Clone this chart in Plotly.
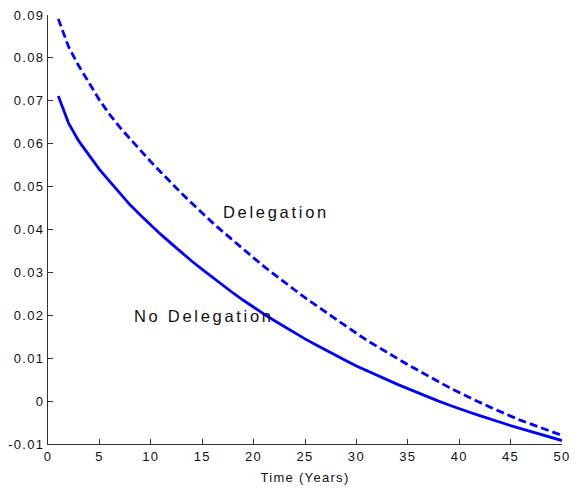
import plotly.graph_objects as go

years = list(range(1, 51))

no_delegation = [
    0.0711, 0.0648, 0.0606, 0.0572, 0.0540, 0.0512, 0.0484, 0.0457, 0.0433, 0.0410,
    0.0388, 0.0367, 0.0346, 0.0326, 0.0307, 0.0288, 0.0270, 0.0252, 0.0235, 0.0218,
    0.0203, 0.0188, 0.0173, 0.0159, 0.0145, 0.0132, 0.0119, 0.0106, 0.0094, 0.0082,
    0.0071, 0.0060, 0.0049, 0.0039, 0.0029, 0.0019, 0.0009, 0.0000, -0.0009, -0.0018,
    -0.0026, -0.0034, -0.0042, -0.0050, -0.0057, -0.0064, -0.0071, -0.0078, -0.0085, -0.0092,
]

delegation = [
    0.0891, 0.0826, 0.0781, 0.0740, 0.0702, 0.0668, 0.0638, 0.0611, 0.0584, 0.0558,
    0.0533, 0.0508, 0.0484, 0.0461, 0.0438, 0.0416, 0.0395, 0.0374, 0.0354, 0.0334,
    0.0314, 0.0295, 0.0277, 0.0259, 0.0241, 0.0224, 0.0207, 0.0190, 0.0174, 0.0158,
    0.0142, 0.0127, 0.0113, 0.0099, 0.0085, 0.0071, 0.0058, 0.0045, 0.0032, 0.0020,
    0.0008, -0.0003, -0.0014, -0.0025, -0.0035, -0.0045, -0.0054, -0.0063, -0.0072, -0.0080,
]

x_tick_vals = [0, 5, 10, 15, 20, 25, 30, 35, 40, 45, 50]
x_tick_text = ["0", "5", "10", "15", "20", "25", "30", "35", "40", "45", "50"]
y_tick_vals = [-0.01, 0, 0.01, 0.02, 0.03, 0.04, 0.05, 0.06, 0.07, 0.08, 0.09]
y_tick_text = ["-0.01", "0", "0.01", "0.02", "0.03", "0.04", "0.05", "0.06", "0.07", "0.08", "0.09"]

FONT = "Liberation Sans, Arial, sans-serif"
SP = "letter-spacing:1.3px"
TXT = "#111111"

def spaced(s, sp=SP):
    return f'<span style="{sp}">{s}</span>'

fig = go.Figure()
fig.add_trace(go.Scatter(
    x=years, y=delegation, mode="lines",
    line=dict(color="#0000FF", width=2.8, dash="8px,4px"),
    showlegend=False,
))
fig.add_trace(go.Scatter(
    x=years, y=no_delegation, mode="lines",
    line=dict(color="#0000FF", width=2.8),
    showlegend=False,
))

fig.add_annotation(x=22.2, y=0.0441, text=spaced("Delegation", "letter-spacing:2.7px"),
                   showarrow=False, font=dict(family=FONT, size=16.5, color=TXT))
fig.add_annotation(x=15.15, y=0.0198, text=spaced("No Delegation", "letter-spacing:2.7px"),
                   showarrow=False, font=dict(family=FONT, size=16.5, color=TXT))

axis_common = dict(
    showgrid=False, zeroline=False, showline=True, linecolor="#333333", linewidth=1.2,
    ticks="inside", ticklen=5, tickcolor="#333333", tickwidth=1,
    tickfont=dict(family=FONT, size=13, color=TXT),
    mirror=False,
)

fig.update_xaxes(range=[0, 50], tickvals=x_tick_vals,
                 ticktext=[spaced(t) for t in x_tick_text],
                 title=dict(text=spaced("Time (Years)"), font=dict(family=FONT, size=13, color=TXT), standoff=10),
                 **axis_common)
fig.update_yaxes(range=[-0.01, 0.09], tickvals=y_tick_vals,
                 ticktext=[spaced(t) for t in y_tick_text],
                 **axis_common)

fig.update_layout(
    width=579, height=493,
    margin=dict(l=45, r=9, t=8, b=49),
    plot_bgcolor="white", paper_bgcolor="white",
)

fig.write_html("out.html")
